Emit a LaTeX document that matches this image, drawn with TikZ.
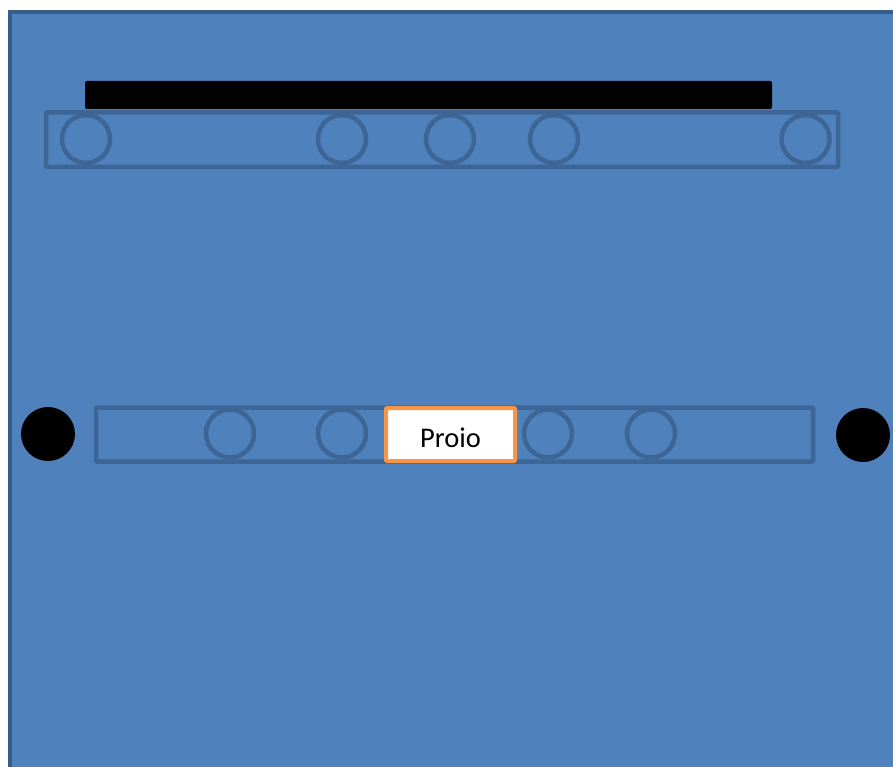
\documentclass[tikz,border=0pt]{standalone}
\usepackage{fontspec}
\setmainfont{Carlito}
\definecolor{panel}{HTML}{4F81BD}
\definecolor{panelline}{HTML}{385D8A}
\definecolor{railline}{HTML}{3D6595}
\definecolor{tagline}{HTML}{F79646}

\begin{document}
\begin{tikzpicture}
  [x=1pt,y=-1pt,
   rail/.style={draw=railline,line width=4.5pt,rounded corners=1pt,inner sep=0pt},
   roller/.style={circle,draw=railline,line width=4.5pt,minimum size=48pt,inner sep=0pt},
   dot/.style={circle,fill=black,minimum size=54pt,inner sep=0pt},
   tag/.style={draw=tagline,fill=white,line width=4pt,rounded corners=1pt,inner sep=0pt,
     minimum width=129pt,minimum height=53pt,text height=25pt,text depth=0pt,
     font=\fontsize{28.5}{32}\selectfont}]

  \useasboundingbox (0,0) rectangle (893,767);
  \clip (0,0) rectangle (893,767);

  % background panel
  \draw[panelline,fill=panel,line width=4.5pt] (10,12) rectangle (905,780);

  % upper track
  \node[fill=black,rounded corners=2pt,minimum width=687pt,minimum height=28pt,inner sep=0pt] (bar) at (428.5,95) {};
  \node[rail,minimum width=792pt,minimum height=54.5pt] (upper) at (442,139.75) {};
  \foreach \x/\name in {86/u1,342/u2,450/u3,554/u4,805.5/u5}
    \node[roller] (\name) at (\x,139) {};

  % lower track
  \node[rail,minimum width=717pt,minimum height=54pt] (lower) at (454.5,434.5) {};
  \foreach \x/\name in {230/l1,342/l2,548/l3,651/l4}
    \node[roller] (\name) at (\x,433.5) {};
  \node[tag] (proio) at (450.5,434.5) {Proio};

  \node[dot] (left) at (48,434) {};
  \node[dot] (right) at (863,435) {};

\end{tikzpicture}
\end{document}
